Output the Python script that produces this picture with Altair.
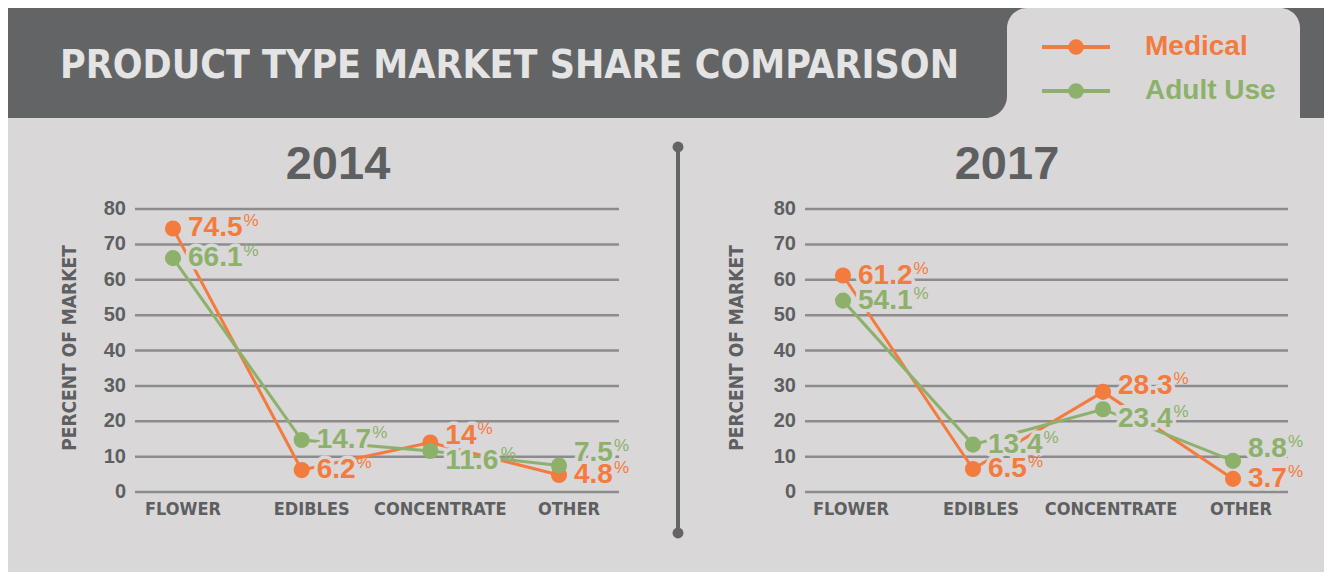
import altair as alt
import pandas as pd

categories = ["FLOWER", "EDIBLES", "CONCENTRATE", "OTHER"]
series_names = ["Medical", "Adult Use"]
series_colors = ["#F47B3E", "#8DB16A"]
years = ["2014", "2017"]
medical_2014 = [74.5, 6.2, 14.0, 4.8]
adult_use_2014 = [66.1, 14.7, 11.6, 7.5]
medical_2017 = [61.2, 6.5, 28.3, 3.7]
adult_use_2017 = [54.1, 13.4, 23.4, 8.8]
y_ticks = [0, 10, 20, 30, 40, 50, 60, 70, 80]
main_title = "PRODUCT TYPE MARKET SHARE COMPARISON"
y_title = "PERCENT OF MARKET"

BG = "#D9D7D8"
DARK = "#636466"
TEXT = "#5E5F61"
GRID = "#8C8C8E"
TITLE_FG = "#E4E4E4"
NARROW = "'Liberation Sans Narrow', 'DejaVu Sans Condensed', sans-serif"
SANS = "'Liberation Sans', Arial, sans-serif"
NUM_SIZE = 28

color_scale = alt.Scale(domain=series_names, range=series_colors)
one = pd.DataFrame({"k": [0]})


def make_df(med, adu):
    rows = []
    for s, vals in zip(series_names, [med, adu]):
        for c, v in zip(categories, vals):
            rows.append({"cat": c, "series": s, "value": v, "label": f"{v:g}"})
    return pd.DataFrame(rows)


def panel(df, year, x_range, grid_x, tick_x, ytitle_x, title_x, label_dx):
    xsc = alt.Scale(type="point", domain=categories, range=x_range, padding=0)
    ysc = alt.Scale(domain=[0, 80], range=[484, 201], nice=False, zero=False)
    X = alt.X("cat:N", scale=xsc, axis=None, sort=categories)
    Y = alt.Y("value:Q", scale=ysc, axis=None)
    C = alt.Color("series:N", scale=color_scale, legend=None)
    tick_df = pd.DataFrame({"t": y_ticks})
    TY = alt.Y("t:Q", scale=ysc, axis=None)

    grid = alt.Chart(tick_df).mark_rule(color=GRID, strokeWidth=2.5).encode(
        y=TY, x=alt.value(grid_x[0]), x2=alt.value(grid_x[1]))
    ticks = alt.Chart(tick_df).mark_text(
        align="right", baseline="middle", font=SANS, fontSize=20,
        fontWeight="bold", color=TEXT).encode(y=TY, x=alt.value(tick_x), text="t:Q")
    cats = alt.Chart(pd.DataFrame({"cat": categories})).mark_text(
        align="center", baseline="middle", font=NARROW, fontSize=18,
        fontWeight="bold", color=TEXT, dx=label_dx).encode(
        x=X, y=alt.value(502), text="cat:N")
    ytitle = alt.Chart(one).mark_text(
        angle=270, align="center", baseline="middle", font=NARROW, fontSize=19,
        fontWeight="bold", color=TEXT).encode(
        x=alt.value(ytitle_x), y=alt.value(340), text=alt.value(y_title))
    ptitle = alt.Chart(one).mark_text(
        align="center", baseline="middle", font=SANS, fontSize=47,
        fontWeight="bold", color=TEXT).encode(
        x=alt.value(title_x), y=alt.value(157), text=alt.value(year))

    lines = alt.Chart(df).mark_line(strokeWidth=3).encode(x=X, y=Y, color=C)
    points = alt.Chart(df).mark_circle(size=260, opacity=1).encode(x=X, y=Y, color=C)

    groups = [
        ("datum.series == 'Adult Use' && datum.cat == 'OTHER'", -12),
        ("datum.series == 'Adult Use' && datum.cat == 'CONCENTRATE'", 10),
        ("datum.series == 'Medical' && datum.cat == 'CONCENTRATE'", -6),
    ]
    rest = "!(" + " || ".join("(" + g[0] + ")" for g in groups) + ")"
    groups.append((rest, 0))

    dw = 0.556 * NUM_SIZE
    pw = 0.278 * NUM_SIZE
    pw_expr = (f"(length(datum.label) - (indexof(datum.label, '.') >= 0 ? 1 : 0)) * {dw}"
               f" + (indexof(datum.label, '.') >= 0 ? {pw} : 0)")

    halos, nums = [], []
    for flt, dy in groups:
        base = alt.Chart(df).transform_filter(flt).transform_calculate(pw=pw_expr)
        halos.append(base.mark_text(
            align="left", baseline="middle", dx=15, dy=dy, font=SANS,
            fontSize=NUM_SIZE, fontWeight="bold", fill=BG, stroke=BG,
            strokeWidth=7, strokeJoin="round").encode(x=X, y=Y, text="label:N"))
        nums.append(base.mark_text(
            align="left", baseline="middle", dx=15, dy=dy, font=SANS,
            fontSize=NUM_SIZE, fontWeight="bold").encode(
            x=X, y=Y, text="label:N", color=C))
        nums.append(base.mark_text(
            align="left", baseline="middle", dx=16, dy=dy - 7, font=SANS,
            fontSize=17).encode(
            x=X, xOffset=alt.XOffset("pw:Q", scale=None), y=Y,
            text=alt.value("%"), color=C))

    return alt.layer(grid, ticks, cats, ytitle, ptitle, lines, *halos, points, *nums)


# header
corner_fill = alt.Chart(one).mark_rect(color=DARK).encode(
    x=alt.value(985), x2=alt.value(1030), y=alt.value(0), y2=alt.value(40))
right_dark = alt.Chart(one).mark_rect(color=DARK).encode(
    x=alt.value(1270), x2=alt.value(1316), y=alt.value(0), y2=alt.value(110))
tab = alt.Chart(one).mark_rect(color=BG, cornerRadiusTopLeft=20, cornerRadiusTopRight=20).encode(
    x=alt.value(999), x2=alt.value(1292), y=alt.value(0), y2=alt.value(110))
left_dark = alt.Chart(one).mark_rect(color=DARK, cornerRadiusBottomRight=22).encode(
    x=alt.value(0), x2=alt.value(999), y=alt.value(0), y2=alt.value(110))
title = alt.Chart(one).mark_text(
    align="left", baseline="middle", font=NARROW, fontSize=39,
    fontWeight="bold", color=TITLE_FG).encode(
    x=alt.value(52), y=alt.value(58), text=alt.value(main_title))

# legend
legend_df = pd.DataFrame({"series": series_names})
LY = alt.Y("series:N", sort=series_names, axis=None,
           scale=alt.Scale(type="point", domain=series_names, range=[39, 83], padding=0))
LC = alt.Color("series:N", scale=color_scale, legend=None)
legend = alt.layer(
    alt.Chart(legend_df).mark_rule(strokeWidth=4).encode(
        y=LY, x=alt.value(1034), x2=alt.value(1102), color=LC),
    alt.Chart(legend_df).mark_circle(size=240, opacity=1).encode(
        y=LY, x=alt.value(1068), color=LC),
    alt.Chart(legend_df).mark_text(
        align="left", baseline="middle", font=SANS, fontSize=28,
        fontWeight="bold").encode(
        y=LY, x=alt.value(1137), text="series:N", color=LC),
)

# divider
divider = alt.layer(
    alt.Chart(one).mark_rule(color=DARK, strokeWidth=4).encode(
        x=alt.value(670), y=alt.value(139), y2=alt.value(525)),
    alt.Chart(one).mark_circle(color=DARK, size=120, opacity=1).encode(
        x=alt.value(670), y=alt.value(139)),
    alt.Chart(one).mark_circle(color=DARK, size=120, opacity=1).encode(
        x=alt.value(670), y=alt.value(525)),
)

p1 = panel(make_df(medical_2014, adult_use_2014), years[0],
           [165, 551], (127, 611), 118, 62, 330, 10)
p2 = panel(make_df(medical_2017, adult_use_2017), years[1],
           [835, 1225], (797, 1280), 788, 729, 999, 8)

chart = alt.layer(
    corner_fill, right_dark, tab, left_dark, title, legend, divider, p1, p2
).resolve_scale(x="independent", y="independent").properties(
    width=1316, height=564, autosize=alt.AutoSizeParams(type="none"), padding=0
).configure(background=BG).configure_view(stroke=None)

chart.save("out.html", embed_options={"renderer": "svg", "actions": False})
